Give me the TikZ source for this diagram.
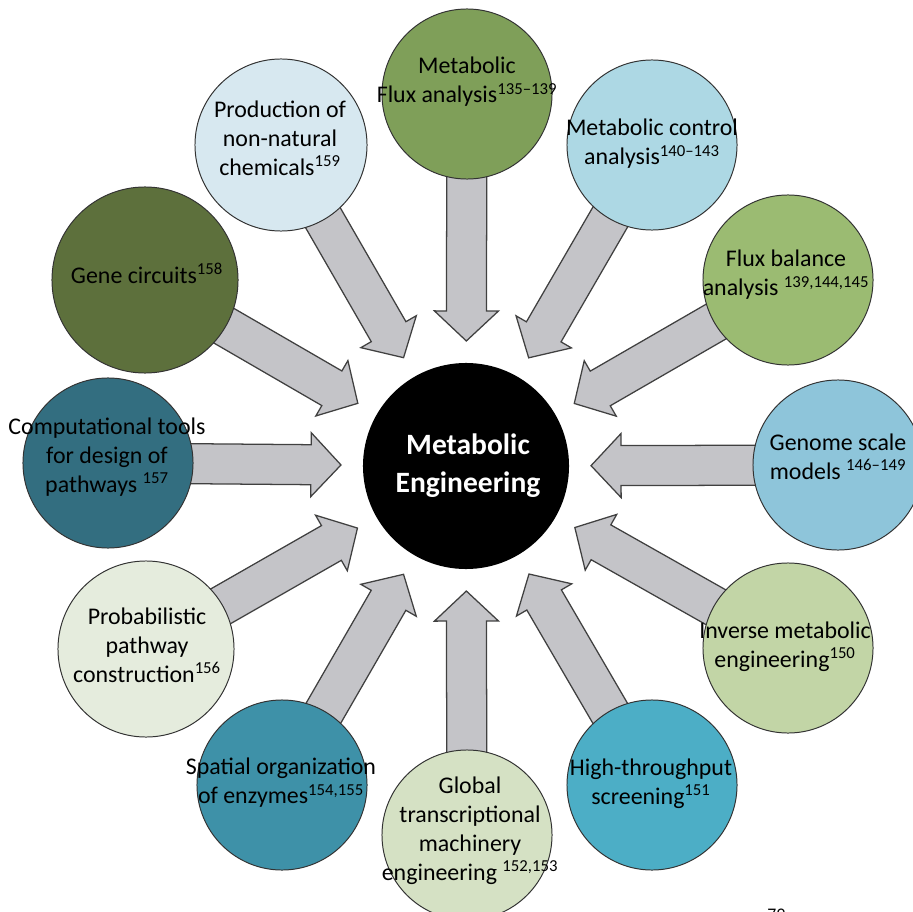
\documentclass[tikz,border=0pt]{standalone}
\usepackage{fontspec}
\setmainfont{Carlito}
\definecolor{FluxGreen}{RGB}{127,159,89}
\definecolor{ControlBlue}{RGB}{173,216,228}
\definecolor{BalanceGreen}{RGB}{155,187,114}
\definecolor{GenomeBlue}{RGB}{142,197,218}
\definecolor{InverseGreen}{RGB}{194,213,166}
\definecolor{ScreenBlue}{RGB}{76,174,198}
\definecolor{GlobalGreen}{RGB}{213,225,196}
\definecolor{SpatialBlue}{RGB}{62,145,168}
\definecolor{ProbGreen}{RGB}{229,236,221}
\definecolor{CompBlue}{RGB}{51,110,128}
\definecolor{GeneGreen}{RGB}{93,112,60}
\definecolor{ChemBlue}{RGB}{215,232,240}
\definecolor{ArrowGray}{RGB}{196,196,200}
\usetikzlibrary{positioning,calc,backgrounds}
\tikzset{topic/.style={circle,draw=black!80,line width=0.7pt,minimum size=4.25cm,inner sep=0pt}}
\tikzset{topictext/.style={align=center,inner sep=0pt,font=\fontsize{17}{20.6}\selectfont}}
\tikzset{hub/.style={circle,fill=black,minimum size=5.15cm,inner sep=0pt}}
\tikzset{hubtext/.style={align=center,text=white,inner sep=0pt,font=\fontsize{21}{27}\selectfont\bfseries}}
\tikzset{fatarrow/.style={draw=black!75,fill=ArrowGray,line width=0.9pt,line join=miter,
    to path={($(\tikztotarget)!7.5cm!(\tikztostart)!0.5cm!90:(\tikztostart)$)
          -- ($(\tikztotarget)!3.875cm!(\tikztostart)!0.5cm!90:(\tikztostart)$)
          -- ($(\tikztotarget)!3.875cm!(\tikztostart)!0.8cm!90:(\tikztostart)$)
          -- ($(\tikztotarget)!3.125cm!(\tikztostart)$)
          -- ($(\tikztotarget)!3.875cm!(\tikztostart)!0.8cm!-90:(\tikztostart)$)
          -- ($(\tikztotarget)!3.875cm!(\tikztostart)!0.5cm!-90:(\tikztostart)$)
          -- ($(\tikztotarget)!7.5cm!(\tikztostart)!0.5cm!-90:(\tikztostart)$) -- cycle}}}

\begin{document}
\begin{tikzpicture}[x=0.025cm, y=-0.025cm]
    \useasboundingbox (0,0) rectangle (913,912);
    % hub
    \node[hub] (hub) at (466,466) {};
    \node[hubtext] (hub text) at (468,466) {Metabolic\\Engineering};
    % topics, clockwise from the top
    \node[topic, fill=FluxGreen]    (t1)  at (467,94)  {};
    \node[topic, fill=ControlBlue]  (t2)  at (652,145) {};
    \node[topic, fill=BalanceGreen] (t3)  at (788,280) {};
    \node[topic, fill=GenomeBlue]   (t4)  at (838,465) {};
    \node[topic, fill=InverseGreen] (t5)  at (788,648) {};
    \node[topic, fill=ScreenBlue]   (t6)  at (652,785) {};
    \node[topic, fill=GlobalGreen]  (t7)  at (467,835) {};
    \node[topic, fill=SpatialBlue]  (t8)  at (282,785) {};
    \node[topic, fill=ProbGreen, minimum size=4.4cm] (t9) at (146,649) {};
    \node[topic, fill=CompBlue]     (t10) at (108,463) {};
    \node[topic, fill=GeneGreen, minimum size=4.65cm] (t11) at (145,280) {};
    \node[topic, fill=ChemBlue, minimum size=4.3cm]   (t12) at (281,145) {};
    \node[topictext] (l1)  at (467,82)  {Metabolic\\Flux analysis\textsuperscript{135–139}};
    \node[topictext] (l2)  at (652,144) {Metabolic control\\analysis\textsuperscript{140–143}};
    \node[topictext] (l3)  at (786,275) {Flux balance\\analysis \textsuperscript{139,144,145}};
    \node[topictext] (l4)  at (838,457) {Genome scale\\models \textsuperscript{146–149}};
    \node[topictext] (l5)  at (785,647) {Inverse metabolic\\engineering\textsuperscript{150}};
    \node[topictext] (l6)  at (651,784) {High-throughput\\screening\textsuperscript{151}};
    \node[topictext] (l7)  at (470,831) {Global\\transcriptional\\machinery\\engineering \textsuperscript{152,153}};
    \node[topictext] (l8)  at (281,783) {Spatial organization\\of enzymes\textsuperscript{154,155}};
    \node[topictext] (l9)  at (147,645) {Probabilistic\\pathway\\construction\textsuperscript{156}};
    \node[topictext] (l10) at (107,457) {Computational tools\\for design of\\pathways \textsuperscript{157}};
    \node[topictext] (l11) at (147,273) {Gene circuits\textsuperscript{158}};
    \node[topictext] (l12) at (280,138) {Production of\\non-natural\\chemicals\textsuperscript{159}};
    \node[anchor=base west, inner sep=0pt, font=\fontsize{12.6}{15}\selectfont] (page) at (767,920) {79};
    \begin{scope}[on background layer]
        \foreach \t in {t1,t2,t3,t4,t5,t6,t7,t8,t9,t10,t11,t12}
            \draw[fatarrow] (\t) to (hub);
    \end{scope}
\end{tikzpicture}
\end{document}
